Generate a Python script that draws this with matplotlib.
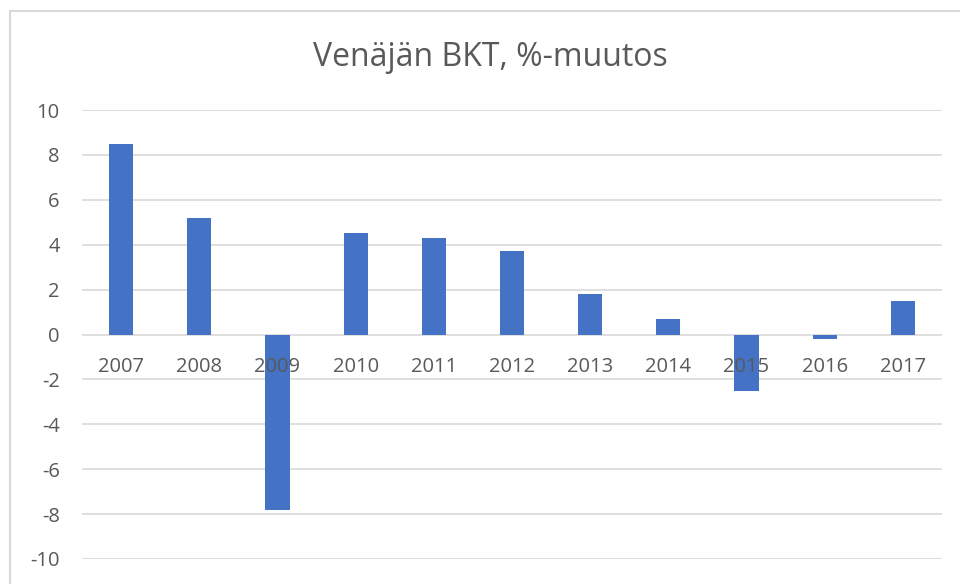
import matplotlib.pyplot as plt
import matplotlib.transforms as mtransforms
from matplotlib.patches import Rectangle

years = ['2007', '2008', '2009', '2010', '2011', '2012', '2013', '2014', '2015', '2016', '2017']
gdp_change = [8.5, 5.2, -7.8, 4.5, 4.3, 3.7, 1.8, 0.7, -2.5, -0.2, 1.5]
y_ticks = [-10, -8, -6, -4, -2, 0, 2, 4, 6, 8, 10]

plt.rcParams['font.family'] = ['Open Sans', 'DejaVu Sans']
text_col = '#595959'
grid_col = '#d9d9d9'

fig = plt.figure(figsize=(9.6, 5.84), dpi=100)
W, H = 960, 584

# chart border (cut off at right and bottom like the screenshot)
fig.patches.append(Rectangle((10 / W, -0.1), 1.2, 1 - 11 / H + 0.1, transform=fig.transFigure,
                             fill=False, edgecolor=grid_col, linewidth=1.5))

ax = fig.add_axes([82 / W, 1 - 559 / H, (942 - 82) / W, (559 - 110) / H])
x = list(range(len(years)))
ax.bar(x, gdp_change, width=0.31, color='#4472C4', zorder=2)

ax.set_xlim(-0.5, len(years) - 0.5)
ax.set_ylim(-10, 10)
ax.set_yticks(y_ticks)
ax.set_yticklabels([str(v) for v in y_ticks])
ax.tick_params(axis='y', length=0, pad=16, labelsize=14.5, labelcolor=text_col)
ax.set_xticks([])
ax.yaxis.grid(True, color=grid_col, linewidth=1.2)
ax.set_axisbelow(True)
for s in ax.spines.values():
    s.set_visible(False)

off = mtransforms.offset_copy(ax.transData, fig=fig, x=0, y=-33, units='dots')
for xi, lab in zip(x, years):
    ax.text(xi, 0, lab, transform=off, ha='center', va='center', fontsize=14.5,
            color=text_col, zorder=5, clip_on=False)

fig.text(490 / W, 1 - 57 / H, 'Venäjän BKT, %-muutos', ha='center', va='center',
         fontsize=23, color=text_col)

fig.savefig('out.png', dpi=100)
